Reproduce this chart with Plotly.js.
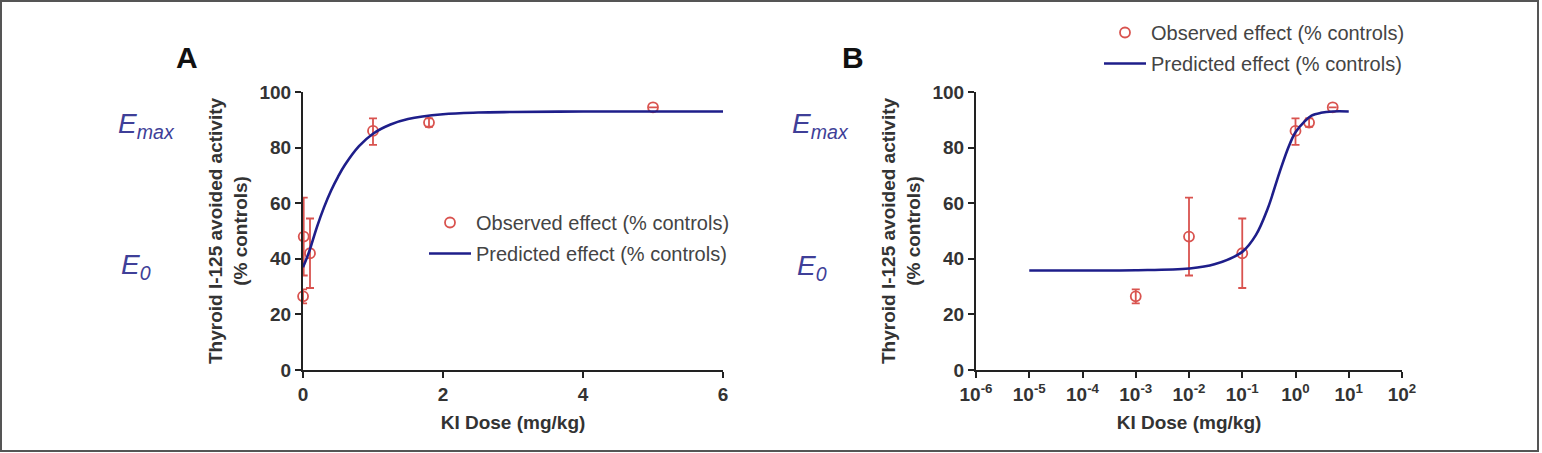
<!DOCTYPE html>
<html>
<head>
<meta charset="utf-8">
<script src="https://cdn.plot.ly/plotly-3.0.1.min.js"></script>
<style>
  html, body { margin: 0; padding: 0; background: #ffffff; }
  #chart { width: 1542px; height: 453px; }
</style>
</head>
<body>
<div id="chart"></div>
<script>
// ---- Data ----
const doseObs   = [0.001, 0.01, 0.1, 1, 1.8, 5];          // KI dose (mg/kg)
const effectObs = [26.5, 48, 42, 86, 89, 94.5];           // observed effect (% controls)
const errUp     = [2.5, 14, 12.5, 4.5, 1.5, 0];
const errDown   = [2.5, 14, 12.5, 5, 1.5, 0];

// Predicted curve, panel A (linear dose axis)
const doseCurveA   = [0, 0.05, 0.1, 0.2, 0.3, 0.4, 0.5, 0.6, 0.8, 1, 1.25, 1.5, 2, 2.5, 3, 4, 5, 6];
const effectCurveA = [37, 40, 43.5, 51.5, 58.5, 64.5, 69.5, 73.8, 80.5, 85, 88.3, 90.3, 92, 92.6, 92.8, 93, 93, 93];

// Predicted curve, panel B (log dose axis)
const doseCurveB   = [1e-5, 1e-4, 1e-3, 1e-2, 0.03, 0.1, 0.18, 0.3, 0.5, 0.75, 1, 1.5, 2, 3, 5, 10];
const effectCurveB = [35.8, 35.8, 35.9, 36.5, 38, 42.5, 48.5, 58, 71, 80.5, 85.5, 89.5, 91.5, 92.5, 93, 93];

// Tick labels
const tickValsA = [0, 2, 4, 6];
const tickValsB = [1e-6, 1e-5, 1e-4, 1e-3, 1e-2, 1e-1, 1e0, 1e1, 1e2];
const tickTextB = ['10<sup>-6</sup>', '10<sup>-5</sup>', '10<sup>-4</sup>', '10<sup>-3</sup>', '10<sup>-2</sup>',
                   '10<sup>-1</sup>', '10<sup>0</sup>', '10<sup>1</sup>', '10<sup>2</sup>'];
const tickValsY = [0, 20, 40, 60, 80, 100];

const obsName  = 'Observed effect (% controls)';
const predName = 'Predicted effect (% controls)';
const yTitle   = 'Thyroid I-125 avoided activity<br>(% controls)';
const xTitle   = 'KI Dose (mg/kg)';

// ---- Styling ----
const W = 1542, H = 453;
const FONT = 'Liberation Sans, Arial, Helvetica, sans-serif';
const RED = '#d9534f';
const NAVY = '#1e1e8a';
const SLATE = '#3f3f98';
const AX = '#222222';
const TXT = '#333333';

const px = v => v / W;
const py = v => 1 - v / H;

function obsTrace(xa, ya, legend) {
  return {
    type: 'scatter', mode: 'markers', name: obsName,
    x: doseObs, y: effectObs, xaxis: xa, yaxis: ya,
    legend: legend, legendgroup: legend + 'obs',
    cliponaxis: false,
    marker: { symbol: 'circle-open', size: 10, color: RED, line: { color: RED, width: 1.8 } },
    error_y: { type: 'data', symmetric: false, array: errUp, arrayminus: errDown,
               color: RED, thickness: 1.8, width: 4 }
  };
}
function predTrace(x, y, xa, ya, legend) {
  return {
    type: 'scatter', mode: 'lines', name: predName,
    x: x, y: y, xaxis: xa, yaxis: ya,
    legend: legend, legendgroup: legend + 'pred',
    line: { color: NAVY, width: 2.6, shape: 'spline', smoothing: 1 }
  };
}

const data = [
  obsTrace('x', 'y', 'legend'),
  predTrace(doseCurveA, effectCurveA, 'x', 'y', 'legend'),
  obsTrace('x2', 'y2', 'legend2'),
  predTrace(doseCurveB, effectCurveB, 'x2', 'y2', 'legend2')
];

const axisCommon = {
  showline: true, linewidth: 2, linecolor: AX,
  ticks: 'outside', ticklen: 6, tickwidth: 2, tickcolor: AX,
  showgrid: false, zeroline: false, fixedrange: true,
  tickfont: { family: FONT, size: 19, color: TXT, weight: 'bold' }
};

const legendCommon = {
  xanchor: 'left', yanchor: 'top', bgcolor: 'rgba(0,0,0,0)',
  font: { family: FONT, size: 20, color: '#444444' },
  traceorder: 'grouped', tracegroupgap: 2, itemwidth: 42
};

const layout = {
  width: W, height: H,
  margin: { l: 0, r: 0, t: 0, b: 0 },
  paper_bgcolor: '#ffffff', plot_bgcolor: '#ffffff',
  font: { family: FONT, color: TXT },
  xaxis: Object.assign({}, axisCommon, {
    domain: [px(303), px(723)], range: [0, 6], tickvals: tickValsA, anchor: 'y',
    title: { text: xTitle, standoff: 12, font: { family: FONT, size: 19, color: TXT, weight: 'bold' } }
  }),
  yaxis: Object.assign({}, axisCommon, {
    domain: [1 - 370 / H, 1 - 92 / H], range: [0, 100], tickvals: tickValsY, anchor: 'x'
  }),
  xaxis2: Object.assign({}, axisCommon, {
    type: 'log', domain: [px(976), px(1402)], range: [-6, 2],
    tickvals: tickValsB, ticktext: tickTextB, anchor: 'y2',
    title: { text: xTitle, standoff: 12, font: { family: FONT, size: 19, color: TXT, weight: 'bold' } }
  }),
  yaxis2: Object.assign({}, axisCommon, {
    domain: [1 - 370 / H, 1 - 92 / H], range: [0, 100], tickvals: tickValsY, anchor: 'x2'
  }),
  legend: Object.assign({}, legendCommon, { x: px(424), y: py(203) }),
  legend2: Object.assign({}, legendCommon, { x: px(1099), y: py(13) }),
  annotations: [
    { text: yTitle, textangle: -90, xref: 'paper', yref: 'paper', x: px(228), y: py(231),
      showarrow: false, xanchor: 'center', yanchor: 'middle',
      font: { family: FONT, size: 19, color: TXT, weight: 'bold' } },
    { text: yTitle, textangle: -90, xref: 'paper', yref: 'paper', x: px(901), y: py(231),
      showarrow: false, xanchor: 'center', yanchor: 'middle',
      font: { family: FONT, size: 19, color: TXT, weight: 'bold' } },
    { text: 'A', xref: 'paper', yref: 'paper', x: px(187), y: py(58), showarrow: false,
      xanchor: 'center', yanchor: 'middle', font: { family: FONT, size: 30, color: '#111', weight: 'bold' } },
    { text: 'B', xref: 'paper', yref: 'paper', x: px(853), y: py(58), showarrow: false,
      xanchor: 'center', yanchor: 'middle', font: { family: FONT, size: 30, color: '#111', weight: 'bold' } },
    { text: '<i>E<sub>max</sub></i>', xref: 'paper', yref: 'paper', x: px(116), y: py(125), showarrow: false,
      xanchor: 'left', yanchor: 'middle', font: { family: FONT, size: 28, color: SLATE } },
    { text: '<i>E<sub>0</sub></i>', xref: 'paper', yref: 'paper', x: px(119), y: py(266), showarrow: false,
      xanchor: 'left', yanchor: 'middle', font: { family: FONT, size: 28, color: SLATE } },
    { text: '<i>E<sub>max</sub></i>', xref: 'paper', yref: 'paper', x: px(790), y: py(125), showarrow: false,
      xanchor: 'left', yanchor: 'middle', font: { family: FONT, size: 28, color: SLATE } },
    { text: '<i>E<sub>0</sub></i>', xref: 'paper', yref: 'paper', x: px(795), y: py(267), showarrow: false,
      xanchor: 'left', yanchor: 'middle', font: { family: FONT, size: 28, color: SLATE } }
  ],
  shapes: [
    { type: 'rect', xref: 'paper', yref: 'paper', x0: px(1), x1: px(1538), y0: py(451), y1: py(1),
      line: { color: '#555555', width: 2 }, fillcolor: 'rgba(0,0,0,0)' }
  ]
};

Plotly.newPlot('chart', data, layout, { staticPlot: true, displayModeBar: false });
</script>
</body>
</html>
